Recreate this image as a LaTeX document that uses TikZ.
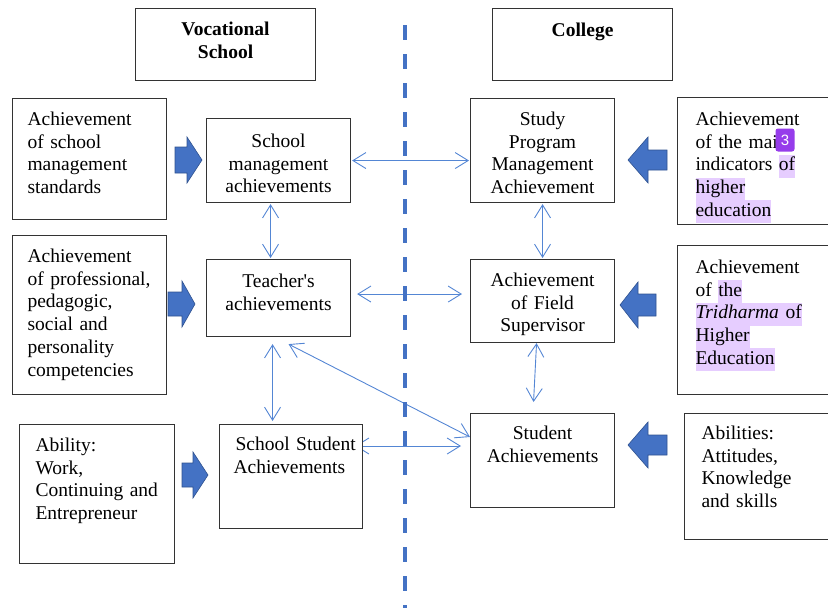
\documentclass[tikz,border=0pt]{standalone}
\usepackage{fontspec}
\setmainfont{Liberation Serif}
\setsansfont{Liberation Sans}
\usetikzlibrary{arrows.meta,backgrounds}
\definecolor{linkblue}{RGB}{84,134,212}
\definecolor{dashblue}{RGB}{68,114,196}
\definecolor{arrowfill}{RGB}{68,114,196}
\definecolor{arrowedge}{RGB}{47,82,143}
\definecolor{hlpurple}{RGB}{230,205,255}
\definecolor{badgepurple}{RGB}{150,60,235}
\newcommand\bodysize{\fontsize{19.5}{22.7}\selectfont}
\newcommand\hlp[1]{{\setlength{\fboxsep}{0pt}\colorbox{hlpurple}{\strut#1}}}

\begin{document}
\begin{tikzpicture}[x=1pt,y=-1pt,
	box/.style={draw=black!80,line width=1.1pt,fill=white,anchor=north west,inner ysep=0pt,text height=27pt,font=\bodysize},
	head/.style={box,inner xsep=10pt,text width=160pt,align=center,font=\bodysize\bfseries},
	link/.style={draw=linkblue,line width=0.9pt,>={Straight Barb[length=13pt,width=16pt]},<->},
	divider/.style={draw=dashblue,line width=4pt,dash pattern=on 15pt off 14pt},
	blockarrow/.style={fill=arrowfill,draw=arrowedge,line width=0.6pt},
	pics/barrow/.style n args={3}{code={\draw[blockarrow] (0,-#3) -- (#2,-#3) -- (#2,-23) -- (#1,0) -- (#2,23) -- (#2,#3) -- (0,#3) -- cycle;}}]
	\useasboundingbox (0,0) rectangle (828,608);

	\node[head,text depth=45pt] (vs) at (135,8) {Vocational\\School};
	\node[head,text height=28pt,text depth=44pt] (col) at (492,8) {College};

	\node[box,inner xsep=15pt,text width=124pt,text depth=94pt,align=left] (L1) at (12,98) {Achievement\\of school\\management\\standards};
	\node[box,inner xsep=15pt,text width=124pt,text depth=132pt,align=left] (L2) at (12,235) {Achievement\\of professional,\\pedagogic,\\social and\\personality\\competencies};
	\node[box,inner xsep=16pt,text width=123pt,text depth=112pt,align=left] (L3) at (19,424) {Ability:\\Work,\\Continuing and\\Entrepreneur};

	\node[box,inner xsep=8pt,text width=128pt,text height=29pt,text depth=55pt,align=center] (M1) at (206,118) {School\\management\\achievements};
	\node[box,inner xsep=8pt,text width=128pt,text height=28pt,text depth=49pt,align=center] (M2) at (206,259) {Teacher\textquotesingle s\\achievements};
	\node[box,inner xsep=6pt,text width=131pt,text height=26pt,text depth=78pt,align=left] (M3) at (219,424) {\hspace*{10pt}\mbox{School Student}\\\hspace*{8pt}Achievements};

	\node[box,inner xsep=8pt,text width=128pt,text depth=77pt,align=center] (R1) at (470,98) {Study\\Program\\Management\\Achievement};
	\node[box,inner xsep=8pt,text width=128pt,text depth=56pt,align=center] (R2) at (470,259) {Achievement\\of Field\\Supervisor};
	\node[box,inner xsep=8pt,text width=128pt,text height=26pt,text depth=68pt,align=center] (R3) at (470,413) {Student\\Achievements};

	\node[box,inner xsep=18pt,text width=124pt,text height=28pt,text depth=99pt,align=left] (F1) at (677,97) {Achievement\\of the mai\\indicators \hlp{of}\\\hlp{higher}\\\hlp{education}};
	\node[box,inner xsep=18pt,text width=124pt,text height=28pt,text depth=121pt,align=left] (F2) at (677,245) {Achievement\\of \hlp{the}\\\hlp{\emph{Tridharma} of}\\\hlp{Higher}\\\hlp{Education}};
	\node[box,inner xsep=17pt,text width=126pt,text height=26pt,text depth=100pt,align=left] (F3) at (684,413) {Abilities:\\Attitudes,\\Knowledge\\and skills};
	\node[fill=badgepurple,rounded corners=2.5pt,text=white,font=\sffamily\fontsize{15}{15}\selectfont,minimum width=19pt,minimum height=23pt,inner sep=0pt] (mark) at (785,140) {3};

	\pic at (175,160) {barrow={27}{12}{13}};
	\pic at (168,304) {barrow={27}{14}{12}};
	\pic at (182,475) {barrow={26}{11}{12}};
	\pic[xscale=-1] at (667,160) {barrow={39}{19}{10}};
	\pic[xscale=-1] at (656,305) {barrow={36}{18}{11}};
	\pic[xscale=-1] at (667,445) {barrow={39}{19}{10}};

	\begin{scope}[on background layer]
	\coordinate (m2r) at ([yshift=4pt]M2.east);
	\coordinate (m3r) at ([yshift=-22pt]M3.north east);
	\draw[link,shorten <=1pt,shorten >=1pt] (M1.east) -- (M1.east -| R1.west);
	\draw[link,shorten <=6pt,shorten >=8pt] (m2r) -- (m2r -| R2.west);
	\draw[link,shorten <=1pt,shorten >=1pt] ([xshift=-8pt]M1.south) -- ([xshift=-8pt]M1.south |- M2.north);
	\draw[link,shorten <=7pt,shorten >=3pt] ([xshift=-6pt]M2.south) -- ([xshift=-6pt]M2.south |- M3.north);
	\draw[link] ([xshift=10pt,yshift=-7pt]M2.south) -- ([yshift=-24pt]R3.north west);
	\draw[link,shorten >=9pt] ([xshift=-8pt]m3r) -- (m3r -| R3.west);
	\draw[link,shorten <=1pt,shorten >=1pt] (R1.south) -- (R1.south |- R2.north);
	\draw[link] ([xshift=-6pt]R2.south) -- ([xshift=-9pt,yshift=11pt]R3.north);
	\draw[divider] (405,25) -- (405,608);
	\end{scope}
\end{tikzpicture}
\end{document}
